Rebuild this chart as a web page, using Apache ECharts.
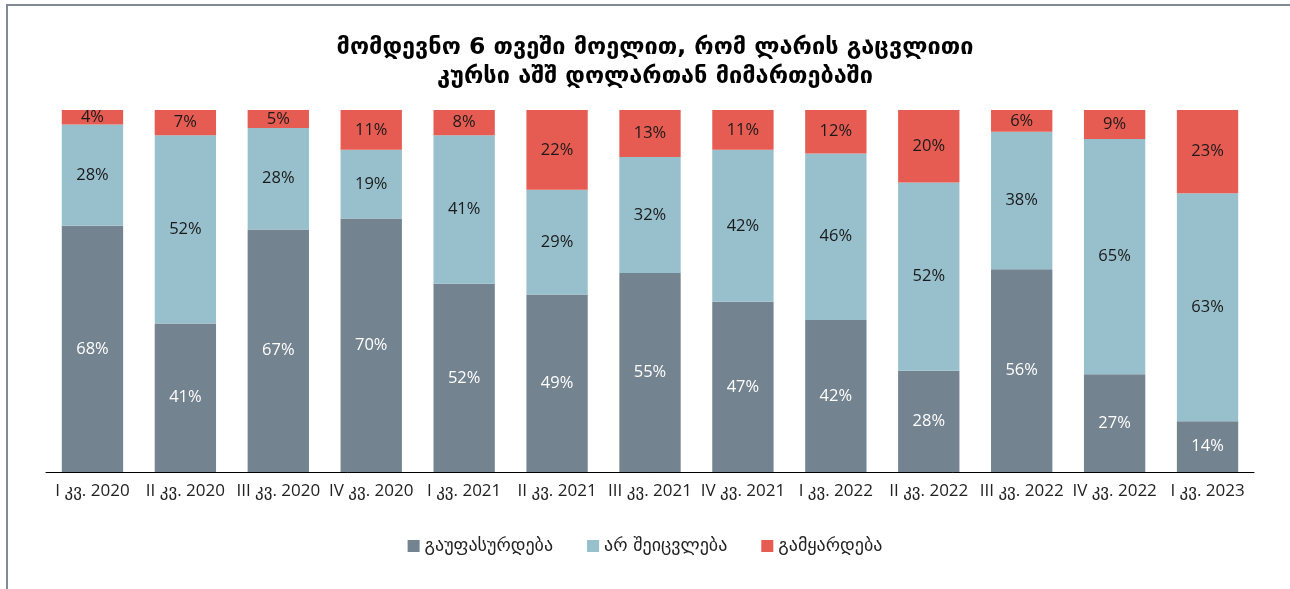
<!DOCTYPE html>
<html>
<head>
<meta charset="utf-8">
<script src="https://cdn.jsdelivr.net/npm/echarts@6/dist/echarts.min.js"></script>
<style>
  html, body { margin: 0; padding: 0; background: #fff; }
  #frame { position: absolute; left: 6px; top: 4px; width: 1284px; height: 585px;
           border-left: 2px solid #7f8a96; border-top: 2px solid #7f8a96; }
  #chart { position: absolute; left: 0; top: 0; width: 1290px; height: 589px; }
</style>
</head>
<body>
<div id="frame"></div>
<div id="chart"></div>
<script>
const quarters = ['I კვ. 2020', 'II კვ. 2020', 'III კვ. 2020', 'IV კვ. 2020', 'I კვ. 2021', 'II კვ. 2021',
  'III კვ. 2021', 'IV კვ. 2021', 'I კვ. 2022', 'II კვ. 2022', 'III კვ. 2022', 'IV კვ. 2022', 'I კვ. 2023']
const depreciation = [68, 41, 67, 70, 52, 49, 55, 47, 42, 28, 56, 27, 14]
const noChange = [28, 52, 28, 19, 41, 29, 32, 42, 46, 52, 38, 65, 63]
const appreciation = [4, 7, 5, 11, 8, 22, 13, 11, 12, 20, 6, 9, 23]

const font = "'DejaVu Sans', 'Noto Sans', sans-serif"
const axisFont = "'Open Sans', 'DejaVu Sans', sans-serif"

function barSeries(name, data, color, labelColor) {
  return {
    name,
    type: 'bar',
    stack: 'total',
    data,
    barCategoryGap: '34%',
    itemStyle: { color },
    label: {
      show: true,
      position: 'inside',
      formatter: '{c}%',
      color: labelColor,
      fontSize: 16.5,
      fontFamily: axisFont,
    },
  }
}

const chart = echarts.init(document.getElementById('chart'))
chart.setOption({
  animation: false,
  title: {
    text: 'მომდევნო 6 თვეში მოელით, რომ ლარის გაცვლითი\nკურსი აშშ დოლართან მიმართებაში',
    left: 650,
    textAlign: 'center',
    top: 28,
    textStyle: { fontSize: 23.5, fontWeight: 'bold', color: '#000', fontFamily: font, lineHeight: 29 },
  },
  legend: {
    bottom: 29,
    left: 'center',
    itemWidth: 12,
    itemHeight: 12,
    itemGap: 34,
    icon: 'rect',
    textStyle: { fontSize: 18, color: '#222', fontFamily: font },
  },
  grid: { left: 46, right: 36, top: 110, bottom: 117 },
  xAxis: {
    type: 'category',
    data: quarters,
    axisLine: { lineStyle: { color: '#000', width: 1 } },
    axisTick: { show: false },
    axisLabel: { fontSize: 17, color: '#222', fontFamily: axisFont, margin: 11, interval: 0 },
  },
  yAxis: {
    type: 'value',
    min: 0,
    max: 100,
    show: false,
    splitLine: { show: false },
  },
  series: [
    barSeries('გაუფასურდება', depreciation, '#748390', '#fff'),
    barSeries('არ შეიცვლება', noChange, '#97bfcc', '#1a1a1a'),
    barSeries('გამყარდება', appreciation, '#e65c52', '#1a1a1a'),
  ],
})
</script>
</body>
</html>
